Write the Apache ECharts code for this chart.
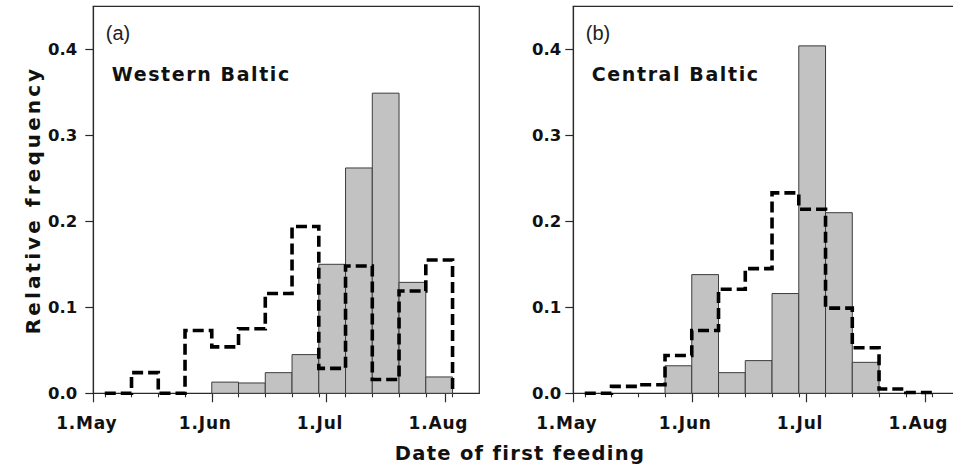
<!DOCTYPE html>
<html>
<head>
<meta charset="utf-8">
<script src="https://cdn.jsdelivr.net/npm/echarts@6/dist/echarts.min.js"></script>
<style>
  html, body { margin: 0; padding: 0; background: #fff; }
  #chart { width: 953px; height: 466px; }
  /* wide tracking for the heavy geometric labels */
  #chart text[style*="bold"][style*="17px"] { letter-spacing: 0.8px; }
  #chart text[style*="bold"][style*="19px"] { letter-spacing: 1.6px; }
  #chart text[style*="bold"][style*="19.5px"] { letter-spacing: 1.3px; }
  #chart text[style*="bold"][style*="20px"] { letter-spacing: 3.1px; }
</style>
</head>
<body>
<div id="chart"></div>
<script>
// ---- data -------------------------------------------------------------
// month tick positions and their labels (month-day)
const monthStarts = ['05-01', '06-01', '07-01', '08-01'];
const monthLabels = ['1.May', '1.Jun', '1.Jul', '1.Aug'];
const axisStart = '05-01';
const axisEnd = '08-10';

// weekly bin edges (13 bins, 4 May .. 3 Aug)
const weekEdges = ['05-04', '05-11', '05-18', '05-25', '06-01', '06-08', '06-15',
                   '06-22', '06-29', '07-06', '07-13', '07-20', '07-27', '08-03'];

// relative frequency per weekly bin (null = no bar)
const westernBars   = [null, null, null, null, 0.013, 0.012, 0.024, 0.045, 0.150, 0.262, 0.349, 0.129, 0.019];
const westernDashed = [0.000, 0.024, 0.000, 0.073, 0.054, 0.075, 0.116, 0.194, 0.029, 0.148, 0.016, 0.119, 0.155];
const centralBars   = [null, null, null, 0.032, 0.138, 0.024, 0.038, 0.116, 0.404, 0.210, 0.036, null, null];
const centralDashed = [0.000, 0.008, 0.010, 0.044, 0.073, 0.121, 0.145, 0.233, 0.214, 0.099, 0.053, 0.005, 0.001];

const yTicks = [0, 0.1, 0.2, 0.3, 0.4];
const yMax = 0.45;

const panelTags = ['(a)', '(b)'];
const panelTitles = ['Western Baltic', 'Central Baltic'];
const yTitle = 'Relative frequency';
const xTitle = 'Date of first feeding';

// ---- helpers ------------------------------------------------------------
function dayOf(md) {
  const [m, d] = md.split('-').map(Number);
  const [m0, d0] = axisStart.split('-').map(Number);
  return Math.round((Date.UTC(2001, m - 1, d) - Date.UTC(2001, m0 - 1, d0)) / 86400000);
}
const monthDays = monthStarts.map(dayOf);
const weekDays = weekEdges.map(dayOf);
const xMin = dayOf(axisStart);
const xMax = dayOf(axisEnd);

function histData(values) {
  const out = [];
  values.forEach((v, i) => {
    if (v != null) out.push([weekDays[i], weekDays[i + 1], v]);
  });
  return out;
}
function stepData(values) {
  return weekDays.map((d, i) => [d, i < values.length ? values[i] : 0]);
}

// ---- layout -----------------------------------------------------------
const INK = '#2a2a2a';
const panels = [
  { left: 93.3, labelMargin: 16 },
  { left: 573.3, labelMargin: 12 }
];
const plotTop = 6.3, plotSize = 387, plotWidth = 386;

const grids = [], xAxes = [], yAxes = [], series = [], graphics = [];
const barSets = [westernBars, centralBars];
const lineSets = [westernDashed, centralDashed];

panels.forEach((p, i) => {
  grids.push({
    left: p.left, top: plotTop, width: plotWidth, height: plotSize,
    show: true, borderColor: INK, borderWidth: 1.2, backgroundColor: 'transparent',
    containLabel: false, outerBoundsMode: 'none'
  });
  // month ticks with labels
  xAxes.push({
    type: 'value', gridIndex: i, min: xMin, max: xMax, position: 'bottom',
    axisLine: { show: true, lineStyle: { color: INK, width: 1.2 } },
    axisTick: { show: true, customValues: monthDays, length: 9, inside: false,
                lineStyle: { color: INK, width: 1.2 } },
    axisLabel: {
      show: true, customValues: monthDays, margin: 21,
      formatter: v => monthLabels[monthDays.indexOf(v)] || '',
      fontFamily: 'DejaVu Sans', fontWeight: 'bold', fontSize: 17, color: '#111',
      padding: [0, 13, 0, 0], hideOverlap: false
    },
    splitLine: { show: false }
  });
  // weekly minor ticks
  xAxes.push({
    type: 'value', gridIndex: i, min: xMin, max: xMax, position: 'bottom',
    axisLine: { show: false },
    axisTick: { show: true, customValues: weekDays, length: 4, inside: false,
                lineStyle: { color: INK, width: 1.1 } },
    axisLabel: { show: false },
    splitLine: { show: false }
  });
  yAxes.push({
    type: 'value', gridIndex: i, min: 0, max: yMax, position: 'left',
    axisLine: { show: true, lineStyle: { color: INK, width: 1.2 } },
    axisTick: { show: true, customValues: yTicks, length: 8, inside: false,
                lineStyle: { color: INK, width: 1.2 } },
    axisLabel: {
      show: true, customValues: yTicks, margin: p.labelMargin,
      formatter: v => v.toFixed(1),
      fontFamily: 'DejaVu Sans', fontWeight: 'bold', fontSize: 16.5, color: '#111'
    },
    splitLine: { show: false }
  });

  series.push({
    type: 'custom', xAxisIndex: i * 2, yAxisIndex: i, z: 2,
    data: histData(barSets[i]),
    encode: { x: [0, 1], y: 2 },
    renderItem: (params, api) => {
      const a = api.coord([api.value(0), 0]);
      const b = api.coord([api.value(1), api.value(2)]);
      return {
        type: 'rect',
        shape: { x: a[0], y: b[1], width: b[0] - a[0], height: a[1] - b[1] },
        style: { fill: '#c2c2c2', stroke: '#3c3c3c', lineWidth: 1 }
      };
    }
  });
  series.push({
    type: 'line', xAxisIndex: i * 2, yAxisIndex: i, z: 4,
    data: stepData(lineSets[i]),
    step: 'end', showSymbol: false, symbol: 'none', clip: false, silent: true,
    lineStyle: { color: '#000', width: 3.6, type: [11, 5], cap: 'butt', join: 'miter' }
  });

  graphics.push({
    type: 'text', x: p.left + 12.5, y: 33,
    style: { text: panelTags[i], fontFamily: 'Liberation Sans', fontSize: 20,
             fill: '#222', align: 'left', verticalAlign: 'middle' }
  });
  graphics.push({
    type: 'text', x: p.left + 18.5, y: 74,
    style: { text: panelTitles[i], fontFamily: 'DejaVu Sans', fontWeight: 'bold', fontSize: 19,
             fill: '#111', align: 'left', verticalAlign: 'middle' }
  });
});

graphics.push({
  type: 'text', x: 33, y: 200, rotation: Math.PI / 2,
  style: { text: yTitle, fontFamily: 'DejaVu Sans', fontWeight: 'bold', fontSize: 20,
           fill: '#111', align: 'center', verticalAlign: 'middle' }
});
graphics.push({
  type: 'text', x: 520, y: 453,
  style: { text: xTitle, fontFamily: 'DejaVu Sans', fontWeight: 'bold', fontSize: 19.5,
           fill: '#111', align: 'center', verticalAlign: 'middle' }
});

const chart = echarts.init(document.getElementById('chart'), null, { renderer: 'svg' });
chart.setOption({
  animation: false,
  backgroundColor: '#fff',
  grid: grids,
  xAxis: xAxes,
  yAxis: yAxes,
  series: series,
  graphic: graphics
});
</script>
</body>
</html>
